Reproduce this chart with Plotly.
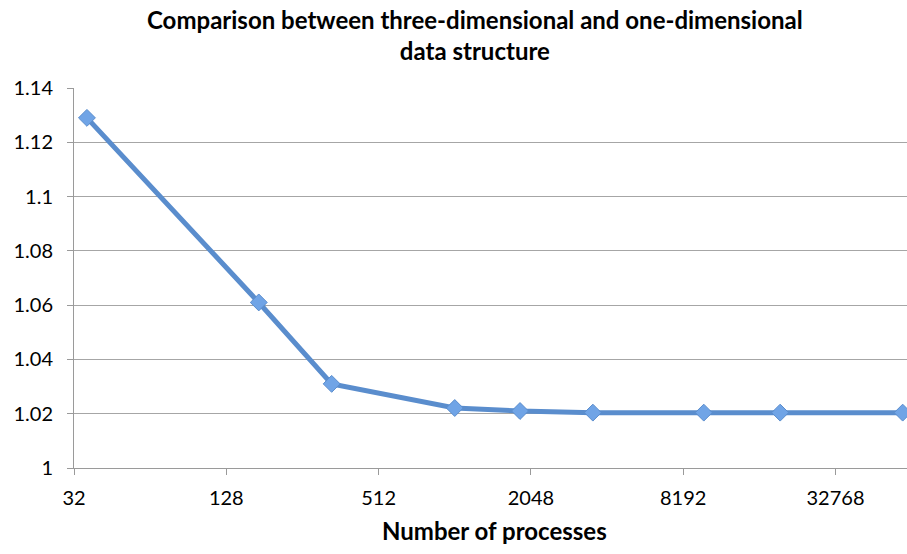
import math
import plotly.graph_objects as go

# Data
processes = [36, 172, 334, 1024, 1855, 3600, 9880, 19800, 60400]
ratio = [1.129, 1.061, 1.031, 1.0221, 1.021, 1.0204, 1.0204, 1.0204, 1.0204]
x_ticks = [32, 128, 512, 2048, 8192, 32768]
x_tick_labels = ["32", "128", "512", "2048", "8192", "32768"]
y_ticks = [1.0, 1.02, 1.04, 1.06, 1.08, 1.10, 1.12, 1.14]
y_tick_labels = ["1", "1.02", "1.04", "1.06", "1.08", "1.1", "1.12", "1.14"]

W, H = 907, 554
left, top, bottom_px = 74, 87.5, 467.6
plot_w = W - left
plot_h = bottom_px - top
px_per_oct = 76.15
right_log2 = 5 + plot_w / px_per_oct

FONT = "Lato"

def paper_x(px):
    return (px - left) / plot_w

def paper_y(py):
    return (bottom_px - py) / plot_h

fig = go.Figure()
fig.add_trace(go.Scatter(
    x=processes, y=ratio, mode="lines+markers",
    line=dict(color="#5a8dcd", width=5),
    marker=dict(symbol="diamond", size=13, color="#70a4e6",
                line=dict(color="#5a8dcd", width=1)),
    cliponaxis=False, showlegend=False, hoverinfo="skip",
))

fig.update_layout(
    width=W, height=H,
    margin=dict(l=left, r=0, t=top, b=H - bottom_px, autoexpand=False),
    paper_bgcolor="white", plot_bgcolor="white",
    font=dict(family=FONT, size=20, color="black"),
    xaxis=dict(
        type="log",
        range=[math.log10(32), right_log2 * math.log10(2)],
        tickvals=x_ticks, ticktext=x_tick_labels,
        showgrid=False, zeroline=False, automargin=False,
        showline=True, linecolor="#9a9a9a", linewidth=1,
        ticks="outside", ticklen=6, tickcolor="#9a9a9a",
        ticklabelstandoff=6,
        tickfont=dict(family=FONT, size=20, color="black"),
    ),
    yaxis=dict(
        range=[1.0, 1.14],
        tickvals=y_ticks, ticktext=y_tick_labels,
        showgrid=True, gridcolor="#a6a6a6", gridwidth=1,
        zeroline=False, automargin=False,
        showline=True, linecolor="#9a9a9a", linewidth=1,
        ticks="outside", ticklen=6, tickcolor="#9a9a9a",
        ticklabelstandoff=10,
        tickfont=dict(family=FONT, size=20, color="black"),
    ),
    annotations=[
        dict(
            text="<b>Comparison between three-dimensional and one-dimensional<br>data structure</b>",
            x=paper_x(475), xref="paper", xanchor="center",
            y=paper_y(2), yref="paper", yanchor="top",
            showarrow=False, align="center",
            font=dict(family=FONT, size=24, color="black"),
        ),
        dict(
            text="<b>Number of processes</b>",
            x=paper_x(494), xref="paper", xanchor="center",
            y=paper_y(530), yref="paper", yanchor="middle",
            showarrow=False,
            font=dict(family=FONT, size=24, color="black"),
        ),
    ],
)

fig.write_html(
    "out.html",
    config={"displayModeBar": False},
    post_script="document.body.style.margin='0';document.body.style.overflow='hidden';",
)
